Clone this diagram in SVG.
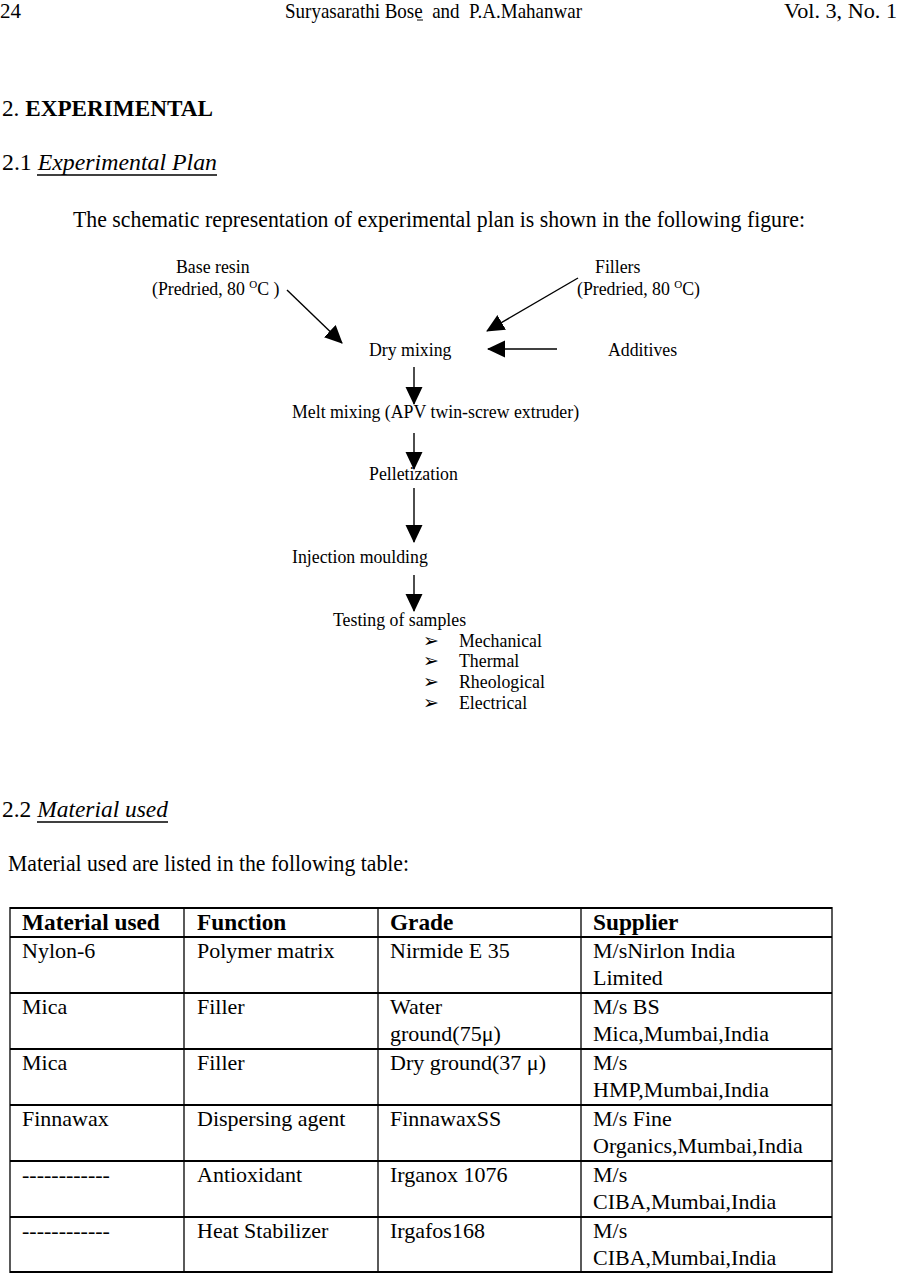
<svg xmlns="http://www.w3.org/2000/svg" width="897" height="1274" viewBox="0 0 897 1274">
<defs>
<marker id="ah" markerUnits="userSpaceOnUse" markerWidth="18" markerHeight="18" viewBox="0 0 18 17" refX="17" refY="8.5" orient="auto">
<path d="M0,0 L18,8.5 L0,17 Z" fill="#000"/>
</marker>
<style>
text{font-family:"Liberation Serif","Times New Roman",serif;fill:#000}
.hd{font-size:21px}
.big{font-size:23.5px}
.fc{font-size:17.8px}
.sup{font-size:11px}
.bul{font-size:19px;font-family:"DejaVu Sans",sans-serif}
.th{font-size:23.3px;font-weight:bold}
.td{font-size:22px}
.conn line{stroke:#000;stroke-width:1.4;marker-end:url(#ah)}
.grid line{stroke:#000}
.h{stroke-width:2}
.v{stroke-width:1.3}
</style>
</defs>
<rect width="897" height="1274" fill="#fff"/>

<g id="header">
<text class="hd" x="0" y="18" textLength="21" lengthAdjust="spacingAndGlyphs">24</text>
<text class="hd" x="285" y="18" textLength="297" lengthAdjust="spacingAndGlyphs" xml:space="preserve">Suryasarathi Bose  and  P.A.Mahanwar</text>
<line x1="417" y1="20" x2="423" y2="20" stroke="#000" stroke-width="1"/>
<text class="hd" x="784" y="18" textLength="113" lengthAdjust="spacingAndGlyphs">Vol. 3, No. 1</text>
</g>

<g id="headings">
<text class="big" x="2" y="116" textLength="211" lengthAdjust="spacingAndGlyphs">2. <tspan font-weight="bold">EXPERIMENTAL</tspan></text>
<text class="big" x="2" y="170" textLength="215" lengthAdjust="spacingAndGlyphs">2.1 <tspan font-style="italic">Experimental Plan</tspan></text>
<line x1="37" y1="175" x2="217" y2="175" stroke="#000" stroke-width="1.3"/>
<text x="73" y="227" font-size="24" textLength="732" lengthAdjust="spacingAndGlyphs">The schematic representation of experimental plan is shown in the following figure:</text>
<text class="big" x="2" y="817" textLength="166" lengthAdjust="spacingAndGlyphs">2.2 <tspan font-style="italic">Material used</tspan></text>
<line x1="37" y1="822" x2="168" y2="822" stroke="#000" stroke-width="1.3"/>
<text x="8" y="871" font-size="23" textLength="401" lengthAdjust="spacingAndGlyphs">Material used are listed in the following table:</text>
</g>

<g id="base-resin">
<text class="fc" x="176" y="273">Base resin</text>
<text class="fc" x="152" y="295" xml:space="preserve">(Predried, 80 <tspan class="sup" dy="-7">O</tspan><tspan dy="7">C )</tspan></text>
</g>
<g id="fillers">
<text class="fc" x="595" y="273">Fillers</text>
<text class="fc" x="577" y="295" xml:space="preserve">(Predried, 80 <tspan class="sup" dy="-7">O</tspan><tspan dy="7">C)</tspan></text>
</g>
<g id="additives"><text class="fc" x="608" y="356">Additives</text></g>
<g id="dry-mixing"><text class="fc" x="369" y="356">Dry mixing</text></g>
<g id="melt-mixing"><text class="fc" x="292" y="418">Melt mixing (APV twin-screw extruder)</text></g>
<g id="pelletization"><text class="fc" x="369" y="480">Pelletization</text></g>
<g id="injection-moulding"><text class="fc" x="292" y="563">Injection moulding</text></g>
<g id="testing">
<text class="fc" x="333" y="626">Testing of samples</text>
<text class="bul" x="423" y="647">➢</text><text class="fc" x="459" y="647">Mechanical</text>
<text class="bul" x="423" y="667">➢</text><text class="fc" x="459" y="667">Thermal</text>
<text class="bul" x="423" y="688">➢</text><text class="fc" x="459" y="688">Rheological</text>
<text class="bul" x="423" y="709">➢</text><text class="fc" x="459" y="709">Electrical</text>
</g>

<g id="connectors" class="conn">
<line x1="287" y1="290" x2="342" y2="343"/>
<line x1="578" y1="278" x2="487" y2="331"/>
<line x1="557" y1="349" x2="488" y2="349"/>
<line x1="414" y1="367" x2="414" y2="404"/>
<line x1="414" y1="433" x2="414" y2="469"/>
<line x1="414" y1="488" x2="414" y2="542"/>
<line x1="414" y1="575" x2="414" y2="611"/>
</g>

<g id="table">
<g class="grid">
<line class="h" x1="10" y1="908" x2="832" y2="908"/>
<line class="h" x1="10" y1="937" x2="832" y2="937"/>
<line class="h" x1="10" y1="993" x2="832" y2="993"/>
<line class="h" x1="10" y1="1049" x2="832" y2="1049"/>
<line class="h" x1="10" y1="1105" x2="832" y2="1105"/>
<line class="h" x1="10" y1="1161" x2="832" y2="1161"/>
<line class="h" x1="10" y1="1217" x2="832" y2="1217"/>
<line class="h" x1="10" y1="1272" x2="832" y2="1272"/>
<line class="v" x1="10" y1="907" x2="10" y2="1273"/>
<line class="v" x1="184" y1="908" x2="184" y2="1272"/>
<line class="v" x1="378" y1="908" x2="378" y2="1272"/>
<line class="v" x1="581" y1="908" x2="581" y2="1272"/>
<line class="v" x1="832" y1="907" x2="832" y2="1273"/>
</g>
<text class="th" x="22" y="930">Material used</text>
<text class="th" x="197" y="930">Function</text>
<text class="th" x="390" y="930">Grade</text>
<text class="th" x="593" y="930">Supplier</text>

<text class="td" x="22" y="958">Nylon-6</text>
<text class="td" x="197" y="958">Polymer matrix</text>
<text class="td" x="390" y="958">Nirmide E 35</text>
<text class="td" x="593" y="958">M/sNirlon India</text>
<text class="td" x="593" y="985">Limited</text>

<text class="td" x="22" y="1014">Mica</text>
<text class="td" x="197" y="1014">Filler</text>
<text class="td" x="390" y="1014">Water</text>
<text class="td" x="390" y="1041">ground(75μ)</text>
<text class="td" x="593" y="1014">M/s BS</text>
<text class="td" x="593" y="1041">Mica,Mumbai,India</text>

<text class="td" x="22" y="1070">Mica</text>
<text class="td" x="197" y="1070">Filler</text>
<text class="td" x="390" y="1070">Dry ground(37 μ)</text>
<text class="td" x="593" y="1070">M/s</text>
<text class="td" x="593" y="1097">HMP,Mumbai,India</text>

<text class="td" x="22" y="1126">Finnawax</text>
<text class="td" x="197" y="1126">Dispersing agent</text>
<text class="td" x="390" y="1126">FinnawaxSS</text>
<text class="td" x="593" y="1126">M/s Fine</text>
<text class="td" x="593" y="1153">Organics,Mumbai,India</text>

<text class="td" x="22" y="1182">------------</text>
<text class="td" x="197" y="1182">Antioxidant</text>
<text class="td" x="390" y="1182">Irganox 1076</text>
<text class="td" x="593" y="1182">M/s</text>
<text class="td" x="593" y="1209">CIBA,Mumbai,India</text>

<text class="td" x="22" y="1238">------------</text>
<text class="td" x="197" y="1238">Heat Stabilizer</text>
<text class="td" x="390" y="1238">Irgafos168</text>
<text class="td" x="593" y="1238">M/s</text>
<text class="td" x="593" y="1265">CIBA,Mumbai,India</text>
</g>
</svg>
